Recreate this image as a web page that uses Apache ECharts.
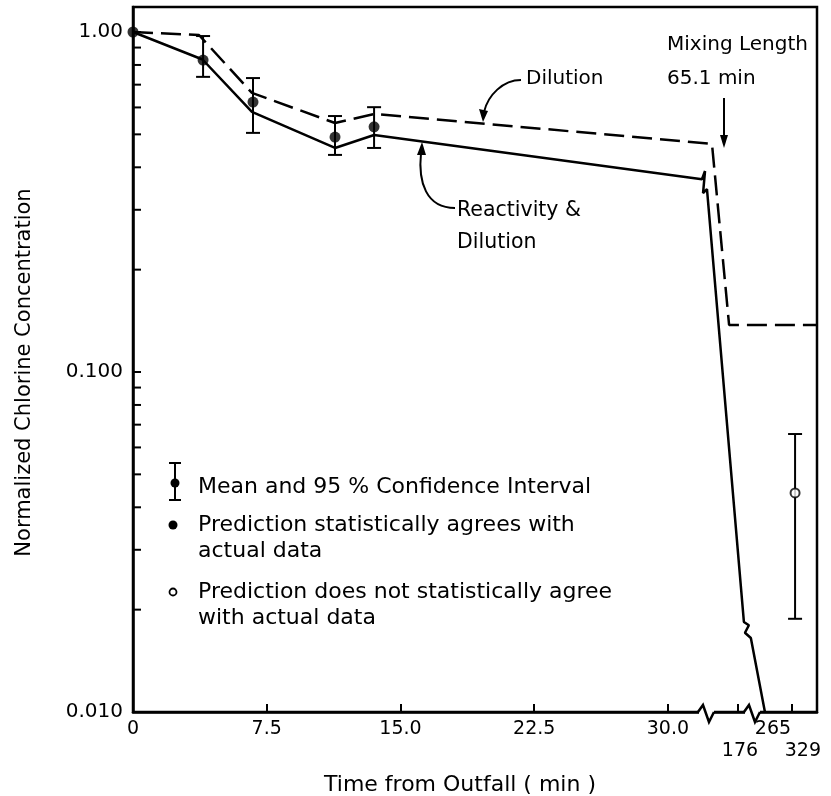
<!DOCTYPE html>
<html>
<head>
<meta charset="utf-8">
<script src="https://cdn.jsdelivr.net/npm/echarts@6/dist/echarts.min.js"></script>
<style>
html,body{margin:0;padding:0;background:#fff;}
#main{width:831px;height:796px;}
</style>
</head>
<body>
<div id="main"></div>
<script>
// ---- data (x is position on the broken time axis) ----
const xTickValues = [0, 7.5, 15, 22.5, 30, 33.93, 36.96];
const xLabelValues = [0, 7.5, 15, 22.5, 30, 34.04, 35.89, 37.57];
const xTickLabels = ['0', '7.5', '15.0', '22.5', '30.0', '176', '265', '329'];
const xLowerRow = ['176', '329'];
const xBreaks = [32.19, 34.77];

const yTickValues = [0.01, 0.1, 1];
const yTickLabels = ['0.010', '0.100', '1.00'];
const yMinorValues = [0.02, 0.03, 0.04, 0.05, 0.06, 0.07, 0.08, 0.09,
                      0.2, 0.3, 0.4, 0.5, 0.6, 0.7, 0.8, 0.9];

const dilutionX = [0, 3.7, 6.67, 11.33, 13.52, 32.47, 33.43, 38.36];
const dilutionY = [1.0, 0.98, 0.662, 0.540, 0.574, 0.469, 0.1375, 0.1375];

const reactX = [0, 3.9, 6.67, 11.33, 13.52, 31.91, 32.08, 31.97, 32.19, 34.26, 34.54, 34.32, 34.65, 35.44];
const reactY = [1.0, 0.83, 0.582, 0.456, 0.498, 0.369, 0.390, 0.336, 0.345, 0.0184, 0.0180, 0.0171, 0.0165, 0.01];

const agreeX = [0, 3.93, 6.73, 11.33, 13.52];
const agreeMean = [1.0, 0.827, 0.622, 0.491, 0.526];
const agreeLow = [null, 0.738, 0.505, 0.435, 0.456];
const agreeHigh = [null, 0.973, 0.732, 0.566, 0.601];

const disagreeX = [37.13];
const disagreeMean = [0.0441];
const disagreeLow = [0.0188];
const disagreeHigh = [0.0657];

const X_MAX = 38.36;
const Y_MAX = Math.pow(10, 25 / 340);
// ------------------------------------------------------

const FONT = 'DejaVu Sans';
const zip = (a, b) => a.map((v, i) => [v, b[i]]);

const ebData = [];
agreeX.forEach((x, i) => { if (agreeLow[i] != null) ebData.push([x, agreeLow[i], agreeHigh[i]]); });
disagreeX.forEach((x, i) => ebData.push([x, disagreeLow[i], disagreeHigh[i]]));

const upperVals = [], lowerVals = [];
xLabelValues.forEach((v, i) => (xLowerRow.indexOf(xTickLabels[i]) >= 0 ? lowerVals : upperVals).push(v));

const chart = echarts.init(document.getElementById('main'), null, {renderer: 'canvas'});
const txt = {fontFamily: FONT, color: '#000'};

function yLabel(v) {
  for (let i = 0; i < yTickValues.length; i++) {
    if (Math.abs(Math.log10(v) - Math.log10(yTickValues[i])) < 1e-6) return yTickLabels[i];
  }
  return '';
}
function xLabel(v) {
  for (let i = 0; i < xLabelValues.length; i++) {
    if (Math.abs(v - xLabelValues[i]) < 1e-6) return xTickLabels[i];
  }
  return '';
}
function t(text, left, cy, size) {
  return {type: 'text', left: left, top: cy - size / 2, style: {text: text, fontSize: size, fontFamily: FONT, fill: '#000'}};
}

const option = {
  backgroundColor: '#fff',
  animation: false,
  grid: {left: 133, right: 14, top: 7, bottom: 84, show: true, borderColor: '#000', borderWidth: 2.5,
         containLabel: false, outerBoundsMode: 'none'},
  xAxis: [{
    type: 'value', min: 0, max: X_MAX, position: 'bottom',
    name: 'Time from Outfall ( min )',
    nameLocation: 'middle', nameGap: 62,
    nameTextStyle: Object.assign({fontSize: 22, padding: [0, 30, 0, 0]}, txt),
    axisLine: {show: true, lineStyle: {color: '#000', width: 2.5}},
    axisTick: {show: true, inside: true, length: 8, lineStyle: {color: '#000', width: 2}, customValues: xTickValues},
    axisLabel: Object.assign({fontSize: 19, margin: 8, customValues: upperVals, formatter: xLabel,
                              hideOverlap: false, showMinLabel: true, showMaxLabel: true}, txt),
    splitLine: {show: false}
  }, {
    type: 'value', min: 0, max: X_MAX, position: 'bottom', offset: 0,
    axisLine: {show: false}, axisTick: {show: false},
    axisLabel: Object.assign({fontSize: 19, margin: 30, customValues: lowerVals, formatter: xLabel,
                              hideOverlap: false, showMinLabel: true, showMaxLabel: true}, txt),
    splitLine: {show: false}
  }],
  yAxis: {
    type: 'log', logBase: 10, min: 0.01, max: Y_MAX,
    name: 'Normalized Chlorine Concentration',
    nameLocation: 'middle', nameGap: 98, nameRotate: 90,
    nameTextStyle: Object.assign({fontSize: 21, padding: [0, 26, 0, 0]}, txt),
    axisLine: {show: true, lineStyle: {color: '#000', width: 2.5}},
    axisTick: {show: true, inside: true, length: 8, lineStyle: {color: '#000', width: 2}},
    axisLabel: Object.assign({fontSize: 20, margin: 10, formatter: yLabel}, txt),
    splitLine: {show: false}
  },
  series: [
    {
      name: 'Dilution', type: 'line', data: zip(dilutionX, dilutionY),
      symbol: 'none', lineStyle: {color: '#000', width: 2.5, type: [20, 8]}, z: 3
    },
    {
      name: 'Reactivity & Dilution', type: 'line', data: zip(reactX, reactY),
      symbol: 'none', lineStyle: {color: '#000', width: 2.5}, z: 3
    },
    {
      name: 'Mean and 95 % Confidence Interval', type: 'custom', data: ebData, z: 4,
      renderItem: function (params, api) {
        const x = api.value(0);
        const lo = api.coord([x, api.value(1)]);
        const hi = api.coord([x, api.value(2)]);
        const w = 7;
        const st = {stroke: '#000', lineWidth: 2};
        return {type: 'group', children: [
          {type: 'line', shape: {x1: lo[0], y1: lo[1], x2: hi[0], y2: hi[1]}, style: st},
          {type: 'line', shape: {x1: lo[0] - w, y1: lo[1], x2: lo[0] + w, y2: lo[1]}, style: st},
          {type: 'line', shape: {x1: hi[0] - w, y1: hi[1], x2: hi[0] + w, y2: hi[1]}, style: st}
        ]};
      }
    },
    {
      name: 'Prediction statistically agrees with actual data', type: 'scatter',
      data: zip(agreeX, agreeMean), symbol: 'circle', symbolSize: 11,
      itemStyle: {color: '#000'}, z: 5
    },
    {
      name: 'Prediction does not statistically agree with actual data', type: 'scatter',
      data: zip(disagreeX, disagreeMean), symbol: 'circle', symbolSize: 9,
      itemStyle: {color: '#fff', borderColor: '#000', borderWidth: 2}, z: 5
    },
    {
      name: 'minor ticks', type: 'custom', data: yMinorValues.map(v => [0, v]), z: 2,
      renderItem: function (params, api) {
        const p = api.coord([0, api.value(1)]);
        return {type: 'line', shape: {x1: p[0], y1: p[1], x2: p[0] + 8, y2: p[1]}, style: {stroke: '#000', lineWidth: 2}};
      }
    },
    {
      name: 'axis breaks', type: 'custom', data: xBreaks.map(v => [v, 0.01]), z: 6, clip: false,
      renderItem: function (params, api) {
        const p = api.coord([api.value(0), api.value(1)]);
        return {type: 'group', children: [
          {type: 'rect', shape: {x: p[0] - 8, y: p[1] - 3, width: 15, height: 6}, style: {fill: '#fff'}},
          {type: 'polyline', shape: {points: [[p[0] - 9, p[1]], [p[0] - 4, p[1] - 7], [p[0] + 2, p[1] + 10], [p[0] + 7, p[1]]]},
           style: {stroke: '#000', lineWidth: 2.5, fill: null}}
        ]};
      }
    }
  ],
  graphic: [
    // annotations
    t('Dilution', 526, 79, 20),
    {type: 'bezierCurve', shape: {x1: 521, y1: 80, cpx1: 503, cpy1: 80, cpx2: 488, cpy2: 95, x2: 484, y2: 112}, style: {stroke: '#000', lineWidth: 2, fill: null}},
    {type: 'polygon', shape: {points: [[479, 109], [488, 111], [483, 122]]}, style: {fill: '#000'}},

    t('Mixing Length', 667, 45, 20),
    t('65.1 min', 667, 79, 20),
    {type: 'line', shape: {x1: 724, y1: 98, x2: 724, y2: 138}, style: {stroke: '#000', lineWidth: 2}},
    {type: 'polygon', shape: {points: [[720, 135], [728, 135], [724, 148]]}, style: {fill: '#000'}},

    t('Reactivity &', 457, 210, 20.5),
    t('Dilution', 457, 242, 20.5),
    {type: 'bezierCurve', shape: {x1: 455, y1: 208, cpx1: 426, cpy1: 208, cpx2: 418, cpy2: 182, x2: 421, y2: 153}, style: {stroke: '#000', lineWidth: 2, fill: null}},
    {type: 'polygon', shape: {points: [[417, 155], [426, 155], [422, 142]]}, style: {fill: '#000'}},

    // legend
    {type: 'line', shape: {x1: 175, y1: 463, x2: 175, y2: 500}, style: {stroke: '#000', lineWidth: 2}},
    {type: 'line', shape: {x1: 169, y1: 463, x2: 181, y2: 463}, style: {stroke: '#000', lineWidth: 2}},
    {type: 'line', shape: {x1: 169, y1: 500, x2: 181, y2: 500}, style: {stroke: '#000', lineWidth: 2}},
    {type: 'circle', shape: {cx: 175, cy: 483, r: 4.5}, style: {fill: '#000'}},
    t('Mean and 95 % Confidence Interval', 198, 487, 22),
    {type: 'circle', shape: {cx: 173, cy: 525, r: 4.5}, style: {fill: '#000'}},
    t('Prediction statistically agrees with', 198, 525, 22),
    t('actual data', 198, 551, 22),
    {type: 'circle', shape: {cx: 173, cy: 592, r: 3.5}, style: {fill: '#fff', stroke: '#000', lineWidth: 1.8}},
    t('Prediction does not statistically agree', 198, 592, 22),
    t('with actual data', 198, 618, 22)
  ]
};
chart.setOption(option);
</script>
</body>
</html>
